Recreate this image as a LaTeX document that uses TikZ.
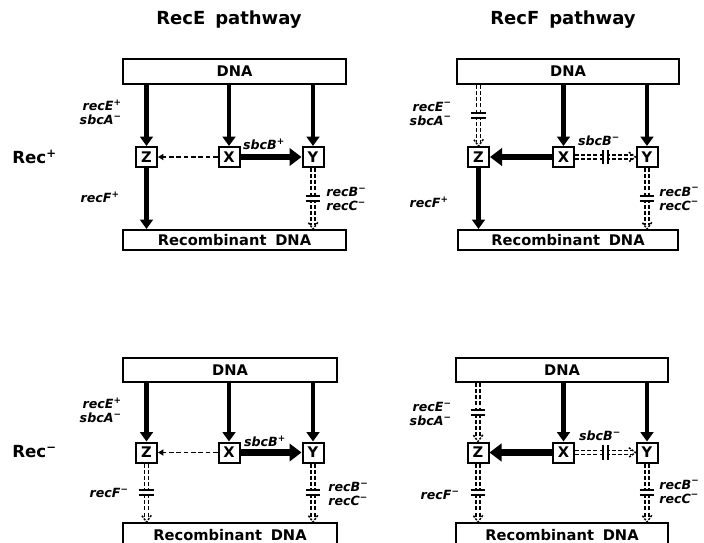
\documentclass[tikz,border=0pt]{standalone}
\usepackage{fontspec}
\setmainfont{DejaVu Sans}
\usetikzlibrary{arrows.meta,decorations.markings}
\begin{document}
\begin{tikzpicture}[x=0.75pt,y=-0.75pt,
  box/.style={draw, line width=1.5pt, inner sep=0pt, font=\bfseries\fontsize{11}{13}\selectfont},
  sbox/.style={box, minimum width=21*0.75pt, minimum height=20*0.75pt},
  lab/.style={inner sep=0pt, font=\bfseries\itshape\fontsize{9.5}{10.5}\selectfont},
  ttl/.style={inner sep=0pt, font=\bfseries\fontsize{13.5}{15}\selectfont},
  side/.style={inner sep=0pt, font=\bfseries\fontsize{12.5}{14}\selectfont},
  boxtext/.style={inner sep=0pt, font=\bfseries\fontsize{11}{13}\selectfont},
  solidarr/.style={line width=3.2pt, -{Triangle[length=7pt,width=9.5pt]}},
  heavyarr/.style={line width=5pt, -{Triangle[length=9pt,width=13pt]}},
  dasharr/.style={line width=1.2pt, dash pattern=on 3.5pt off 2pt, -{Triangle[length=4pt,width=4.5pt]}},
  markpen/.style={solid, shorten >=0pt, shorten <=0pt},
  blocked/.style={draw, double, line width=1.2pt, double distance=2pt,
    dash pattern=on 3pt off 1.6pt, shorten >=3pt,
    postaction={decorate, decoration={markings,
      mark=at position 0.5 with {\fill[white] (-1.8pt,-4pt) rectangle (1.8pt,4pt);
        \draw[markpen, line width=1.4pt] (-1.9pt,-5.5pt) -- (-1.9pt,5.5pt) (1.9pt,-5.5pt) -- (1.9pt,5.5pt);},
      mark=at position 1 with {\draw[markpen, line width=1.1pt, dash pattern=on 1.6pt off 1pt] (-5pt,3.6pt) -- (0pt,0pt) -- (-5pt,-3.6pt);}}}},
]
\useasboundingbox (0,0) rectangle (704,543);
\clip (0,0) rectangle (704,543);

% titles
\node[ttl] (t1) at (229,19.5) {RecE\hspace{0.55em}pathway};
\node[ttl] (t2) at (563,19.5) {RecF\hspace{0.55em}pathway};
\node[side, anchor=west] (rp) at (12,157) {Rec\textsuperscript{+}};
\node[side, anchor=west] (rm) at (12,451.5) {Rec\textsuperscript{−}};

% ---------- panel 1: RecE, Rec+
\node[box, minimum width=223*0.75pt, minimum height=25*0.75pt] (dna1) at (234.5,71.5) {DNA};
\node[sbox] (z1) at (146.5,157) {Z};
\node[sbox] (x1) at (229,157) {X};
\node[sbox] (y1) at (313,157) {Y};
\node[box, minimum width=223*0.75pt, minimum height=20*0.75pt] (rec1) at (234.5,240) {Recombinant\hspace{0.6em}DNA};
\draw[solidarr] (dna1.south -| z1.north) -- (z1.north);
\draw[solidarr] (dna1.south -| x1.north) -- (x1.north);
\draw[solidarr] (dna1.south -| y1.north) -- (y1.north);
\draw[dasharr] (x1.west) -- (z1.east);
\draw[heavyarr] (x1.east) -- (y1.west);
\draw[solidarr] (z1.south) -- (z1.south |- rec1.north);
\path[blocked] (y1.south) -- (y1.south |- rec1.north);
\node[lab, anchor=east, align=right] (l1a) at (122,112) {recE\textsuperscript{+}\\sbcA\textsuperscript{−}};
\node[lab, anchor=east] (l1b) at (120,197) {recF\textsuperscript{+}};
\node[lab] (l1c) at (264,144) {sbcB\textsuperscript{+}};
\node[lab, anchor=west, align=left] (l1d) at (326,199) {recB\textsuperscript{−}\\recC\textsuperscript{−}};

% ---------- panel 2: RecF, Rec+
\node[box, minimum width=222*0.75pt, minimum height=25*0.75pt] (dna2) at (568,71.5) {DNA};
\node[sbox] (z2) at (478.5,157) {Z};
\node[sbox] (x2) at (563.5,157) {X};
\node[sbox] (y2) at (647,157) {Y};
\node[box, minimum width=220*0.75pt, minimum height=20*0.75pt] (rec2) at (568,240) {Recombinant\hspace{0.6em}DNA};
\path[blocked] (dna2.south -| z2.north) -- (z2.north);
\draw[solidarr] (dna2.south -| x2.north) -- (x2.north);
\draw[solidarr] (dna2.south -| y2.north) -- (y2.north);
\draw[heavyarr] (x2.west) -- (z2.east);
\path[blocked] (x2.east) -- (y2.west);
\draw[solidarr] (z2.south) -- (z2.south |- rec2.north);
\path[blocked] (y2.south) -- (y2.south |- rec2.north);
\node[lab, anchor=east, align=right] (l2a) at (452,113.5) {recE\textsuperscript{−}\\sbcA\textsuperscript{−}};
\node[lab, anchor=east] (l2b) at (449,202) {recF\textsuperscript{+}};
\node[lab] (l2c) at (599,141) {sbcB\textsuperscript{−}};
\node[lab, anchor=west, align=left] (l2d) at (659,198.5) {recB\textsuperscript{−}\\recC\textsuperscript{−}};

% ---------- panel 3: RecE, Rec-
\node[box, minimum width=214*0.75pt, minimum height=24*0.75pt] (dna3) at (230,370) {DNA};
\node[sbox] (z3) at (146.5,452.5) {Z};
\node[sbox] (x3) at (229,452.5) {X};
\node[sbox] (y3) at (313,452.5) {Y};
\node[box, minimum width=214*0.75pt, minimum height=30*0.75pt] (rec3) at (230,538) {};
\node[boxtext] (rec3t) at (230,535.5) {Recombinant\hspace{0.6em}DNA};
\draw[solidarr] (dna3.south -| z3.north) -- (z3.north);
\draw[solidarr] (dna3.south -| x3.north) -- (x3.north);
\draw[solidarr] (dna3.south -| y3.north) -- (y3.north);
\draw[dasharr] (x3.west) -- (z3.east);
\draw[heavyarr] (x3.east) -- (y3.west);
\path[blocked] (z3.south) -- (z3.south |- rec3.north);
\path[blocked] (y3.south) -- (y3.south |- rec3.north);
\node[lab, anchor=east, align=right] (l3a) at (122,410) {recE\textsuperscript{+}\\sbcA\textsuperscript{−}};
\node[lab, anchor=east] (l3b) at (129,493) {recF\textsuperscript{−}};
\node[lab] (l3c) at (265,441) {sbcB\textsuperscript{+}};
\node[lab, anchor=west, align=left] (l3d) at (328,494) {recB\textsuperscript{−}\\recC\textsuperscript{−}};

% ---------- panel 4: RecF, Rec-
\node[box, minimum width=212*0.75pt, minimum height=24*0.75pt] (dna4) at (562,370) {DNA};
\node[sbox] (z4) at (478,452.5) {Z};
\node[sbox] (x4) at (563.5,452.5) {X};
\node[sbox] (y4) at (647,452.5) {Y};
\node[box, minimum width=212*0.75pt, minimum height=30*0.75pt] (rec4) at (562,538) {};
\node[boxtext] (rec4t) at (562,535.5) {Recombinant\hspace{0.6em}DNA};
\path[blocked] (dna4.south -| z4.north) -- (z4.north);
\draw[solidarr] (dna4.south -| x4.north) -- (x4.north);
\draw[solidarr] (dna4.south -| y4.north) -- (y4.north);
\draw[heavyarr] (x4.west) -- (z4.east);
\path[blocked] (x4.east) -- (y4.west);
\path[blocked] (z4.south) -- (z4.south |- rec4.north);
\path[blocked] (y4.south) -- (y4.south |- rec4.north);
\node[lab, anchor=east, align=right] (l4a) at (452,414) {recE\textsuperscript{−}\\sbcA\textsuperscript{−}};
\node[lab, anchor=east] (l4b) at (460,495) {recF\textsuperscript{−}};
\node[lab] (l4c) at (600,436) {sbcB\textsuperscript{−}};
\node[lab, anchor=west, align=left] (l4d) at (659,491.5) {recB\textsuperscript{−}\\recC\textsuperscript{−}};
\end{tikzpicture}
\end{document}
